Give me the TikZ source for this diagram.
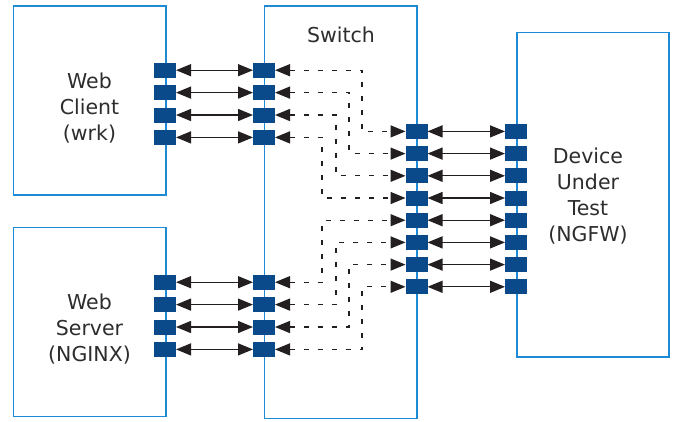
\documentclass[tikz,border=0pt]{standalone}
\usepackage{fontspec}
\setmainfont{DejaVu Sans}
\usetikzlibrary{arrows.meta}
\definecolor{boxblue}{RGB}{28,138,212}
\definecolor{portblue}{RGB}{11,74,138}
\definecolor{txt}{RGB}{45,45,45}
\definecolor{arr}{RGB}{35,31,32}
\begin{document}
\begin{tikzpicture}[x=1pt,y=-1pt,
  box/.style={draw=boxblue, line width=1.6pt, fill=white, inner sep=0pt, outer sep=0pt},
  port/.style={fill=portblue, minimum width=22pt, minimum height=15pt, inner sep=0pt, outer sep=0pt},
  lbl/.style={text=txt, align=center, font=\fontsize{20.5}{26}\selectfont, inner sep=0pt},
  biarr/.style={draw=arr, line width=1.3pt, {Triangle[length=15pt,width=12pt]}-{Triangle[length=15pt,width=12pt]}},
  darr/.style={biarr, dash pattern=on 5pt off 9pt}]
\useasboundingbox (0,0) rectangle (676,421);
% boxes
\node[box, minimum width=152.4pt, minimum height=189pt] (client) at (89.5,100.2) {};
\node[box, minimum width=152.4pt, minimum height=189pt] (server) at (89.5,321.8) {};
\node[box, minimum width=152.4pt, minimum height=412.8pt] (switch) at (340.5,212.1) {};
\node[box, minimum width=152.4pt, minimum height=324.3pt] (dut) at (593,194.8) {};
% labels
\node[lbl] (clientlbl) at (89.5,108.4) {Web\\Client\\(wrk)};
\node[lbl] (serverlbl) at (89.5,329.2) {Web\\Server\\(NGINX)};
\node[lbl, anchor=base] (switchlbl) at (341,42.7) {Switch};
\node[lbl] (dutlbl) at (588,196.5) {Device\\Under\\Test\\(NGFW)};
% vertical routing coordinates
\coordinate (v1) at (362,0);
\coordinate (v2) at (349,0);
\coordinate (v3) at (336,0);
\coordinate (v4) at (322,0);
% ports
\foreach \i/\y in {1/70.2,2/92.6,3/115,4/137.4}{
  \node[port] (cp\i) at (165,\y) {};
  \node[port] (sc\i) at (264,\y) {};
}
\foreach \i/\y in {1/282.2,2/304.6,3/327,4/349.4}{
  \node[port] (sp\i) at (165,\y) {};
  \node[port] (ss\i) at (264,\y) {};
}
\foreach \i/\y in {1/131.4,2/153.6,3/175.8,4/198,5/220.2,6/242.4,7/264.6,8/286.8}{
  \node[port] (sr\i) at (416.5,\y) {};
  \node[port] (d\i) at (516,\y) {};
}
% solid links
\foreach \i in {1,...,4}{
  \draw[biarr] (cp\i.east) -- (sc\i.west);
  \draw[biarr] (sp\i.east) -- (ss\i.west);
}
\foreach \i in {1,...,8}{
  \draw[biarr] (sr\i.east) -- (d\i.west);
}
% dashed switch-internal links
\draw[darr] (sc1.east) -- (sc1.east -| v1) |- (sr1.west);
\draw[darr] (sc2.east) -- (sc2.east -| v2) |- (sr2.west);
\draw[darr] (sc3.east) -- (sc3.east -| v3) |- (sr3.west);
\draw[darr] (sc4.east) -- (sc4.east -| v4) |- (sr4.west);
\draw[darr] (ss1.east) -- (ss1.east -| v4) |- (sr5.west);
\draw[darr] (ss2.east) -- (ss2.east -| v3) |- (sr6.west);
\draw[darr] (ss3.east) -- (ss3.east -| v2) |- (sr7.west);
\draw[darr] (ss4.east) -- (ss4.east -| v1) |- (sr8.west);
\end{tikzpicture}
\end{document}
